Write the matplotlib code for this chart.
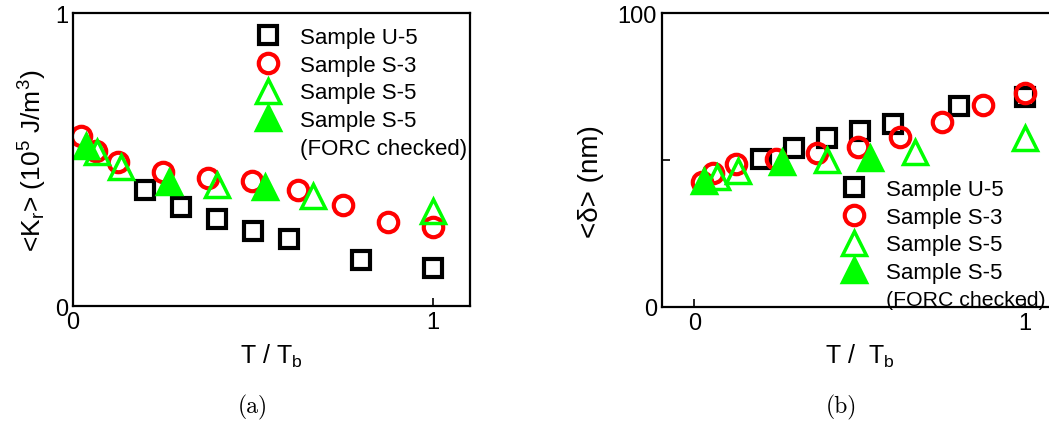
import matplotlib
matplotlib.use("Agg")
import matplotlib.pyplot as plt

plt.rcParams['font.family'] = ['Liberation Sans', 'DejaVu Sans']
plt.rcParams['mathtext.default'] = 'regular'

# ---- (a) anisotropy constant vs T/Tb ----
a_u5_x = [0.2, 0.3, 0.4, 0.5, 0.6, 0.8, 1.0]
a_u5_y = [0.396, 0.337, 0.297, 0.257, 0.229, 0.157, 0.129]
a_s3_x = [0.022, 0.064, 0.126, 0.249, 0.374, 0.498, 0.624, 0.751, 0.876, 1.0]
a_s3_y = [0.579, 0.530, 0.490, 0.458, 0.437, 0.428, 0.397, 0.346, 0.286, 0.269]
a_s5_x = [0.066, 0.133, 0.4, 0.668, 1.0]
a_s5_y = [0.525, 0.473, 0.414, 0.376, 0.323]
a_forc_x = [0.036, 0.268, 0.534]
a_forc_y = [0.547, 0.424, 0.405]

# ---- (b) mean size vs T/Tb ----
b_u5_x = [0.2, 0.3, 0.4, 0.5, 0.6, 0.8, 1.0]
b_u5_y = [50.3, 54.0, 57.4, 60.0, 62.2, 68.3, 71.3]
b_s3_x = [0.022, 0.057, 0.125, 0.246, 0.37, 0.496, 0.622, 0.748, 0.872, 1.0]
b_s3_y = [42.6, 45.6, 48.5, 50.4, 52.3, 54.5, 57.9, 63.0, 68.7, 72.7]
b_s5_x = [0.068, 0.133, 0.4, 0.667, 1.0]
b_s5_y = [44.1, 46.4, 50.1, 52.8, 57.4]
b_forc_x = [0.029, 0.266, 0.531]
b_forc_y = [43.0, 49.4, 50.8]

GREEN = '#00ff00'
RED = '#ff0000'

fig = plt.figure(figsize=(10.49, 4.27), dpi=100)
ax1 = fig.add_axes([0.0696, 0.281, 0.3785, 0.686])
ax2 = fig.add_axes([0.6308, 0.2787, 0.378, 0.6885])


def draw(ax, u5x, u5y, s3x, s3y, s5x, s5y, fx, fy):
    ax.plot(u5x, u5y, 's', ms=12.5, mfc='none', mec='k', mew=3, label='Sample U-5')
    ax.plot(s3x, s3y, 'o', ms=14, mfc='none', mec=RED, mew=3, label='Sample S-3')
    ax.plot(s5x, s5y, '^', ms=17, mfc='none', mec=GREEN, mew=2.5, label='Sample S-5')
    ax.plot(fx, fy, '^', ms=17, mfc=GREEN, mec=GREEN, mew=2.5, label='Sample S-5')
    ax.plot([], [], ls='none', marker='none', label='(FORC checked)')
    for s in ax.spines.values():
        s.set_linewidth(1.6)
    ax.tick_params(direction='in', length=6, width=1.2, labelsize=17,
                   top=False, right=False)


draw(ax1, a_u5_x, a_u5_y, a_s3_x, a_s3_y, a_s5_x, a_s5_y, a_forc_x, a_forc_y)
draw(ax2, b_u5_x, b_u5_y, b_s3_x, b_s3_y, b_s5_x, b_s5_y, b_forc_x, b_forc_y)

ax1.set_xlim(0, 1.103)
ax1.set_ylim(0, 1)
ax1.set_xticks([0, 1])
ax1.set_yticks([0, 1])
ax1.set_ylabel('<K$_r$> (10$^5$ J/m$^3$)', fontsize=19)
ax1.yaxis.set_label_coords(-0.06, 0.5)
ax1.set_xlabel('T / T$_b$', fontsize=18)
ax1.xaxis.set_label_coords(0.5, -0.123)

ax2.set_xlim(-0.099, 1.1)
ax2.set_ylim(0, 100)
ax2.set_xticks([0, 1])
ax2.set_yticks([0, 50, 100])
ax2.set_yticklabels(['0', '', '100'])
ax2.set_ylabel('<δ> (nm)', fontsize=20)
ax2.yaxis.set_label_coords(-0.145, 0.43)
ax2.set_xlabel('T /  T$_b$', fontsize=18)
ax2.xaxis.set_label_coords(0.5, -0.119)

leg_kw = dict(loc='upper left', frameon=False, fontsize=16, handlelength=0.95,
              handletextpad=0.95, labelspacing=0.3, borderpad=0, borderaxespad=0)
ax1.legend(bbox_to_anchor=(0.4645, 0.952), **leg_kw)
leg2 = ax2.legend(bbox_to_anchor=(0.4585, 0.435), **leg_kw)
# keep the last line inside the figure edge
leg2.get_texts()[-1].set_fontsize(15.3)

fig.text(0.2412, 0.0468, '(a)', family='cmr10', fontsize=17, ha='center', va='center')
fig.text(0.8017, 0.0468, '(b)', family='cmr10', fontsize=17, ha='center', va='center')

fig.savefig('out.png', dpi=100)
